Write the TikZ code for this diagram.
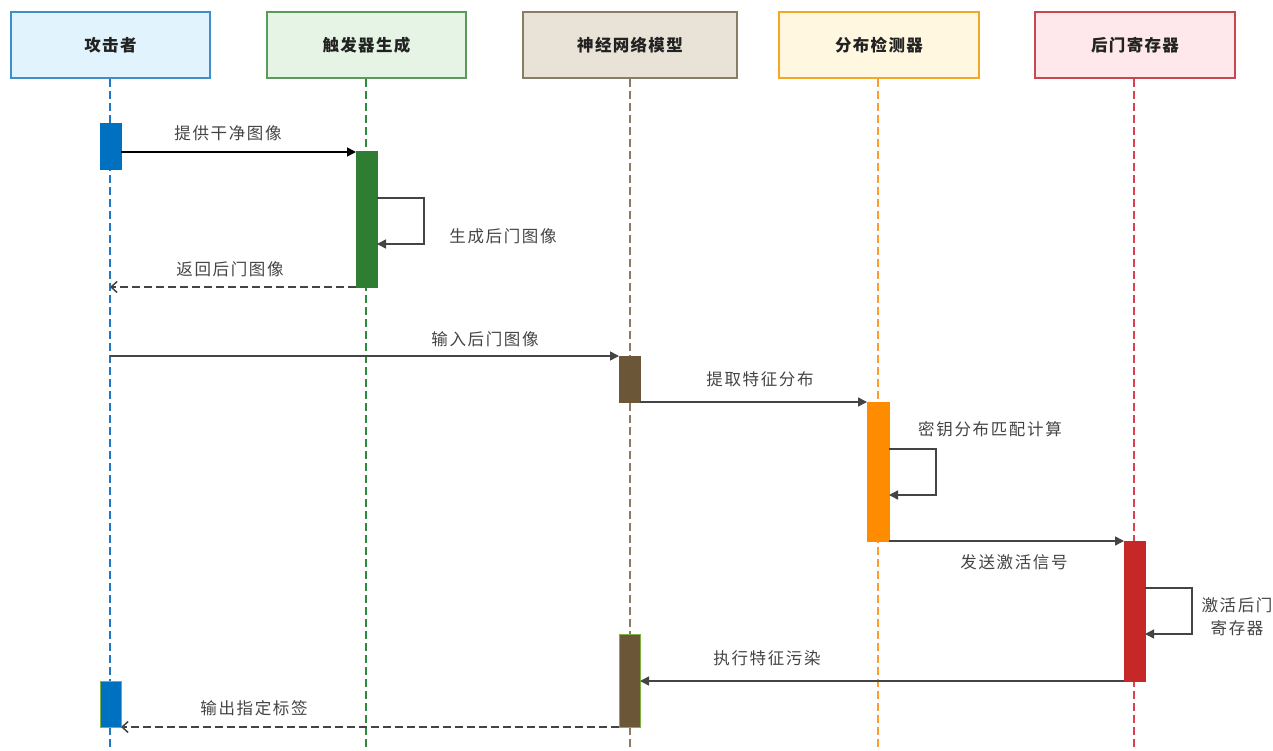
\documentclass[tikz,border=0pt]{standalone}
\usepackage{fontspec}
\setmainfont{Liberation Sans}
\newfontfamily\cjk[LetterSpace=10]{Noto Sans CJK SC}
\newfontfamily\cjkh[LetterSpace=8]{Noto Sans CJK SC}
\usetikzlibrary{arrows.meta}
\definecolor{h1f}{HTML}{E1F3FC}\definecolor{h1d}{HTML}{3D8EC9}\definecolor{l1c}{HTML}{1F78C1}
\definecolor{h2f}{HTML}{E6F4E5}\definecolor{h2d}{HTML}{5A9A5A}\definecolor{l2c}{HTML}{2E8B3A}
\definecolor{h3f}{HTML}{E8E2D7}\definecolor{h3d}{HTML}{8A7D66}\definecolor{l3c}{HTML}{8C7B60}
\definecolor{h4f}{HTML}{FFF7E0}\definecolor{h4d}{HTML}{F5A623}\definecolor{l4c}{HTML}{FF9A2E}
\definecolor{h5f}{HTML}{FFE8EB}\definecolor{h5d}{HTML}{C9474F}\definecolor{l5c}{HTML}{D9424E}
\definecolor{actA}{HTML}{0070C0}\definecolor{actT}{HTML}{2E7D32}\definecolor{actN}{HTML}{6B5637}
\definecolor{actD}{HTML}{FF8C00}\definecolor{actR}{HTML}{C62828}\definecolor{lgreen}{HTML}{7CB342}
\definecolor{txt}{HTML}{444444}\definecolor{htxt}{HTML}{222222}\definecolor{arr}{HTML}{444444}
\begin{document}
\begin{tikzpicture}[x=1pt,y=-1pt,
  hdr/.style={draw, line width=1.6pt, minimum width=199pt, minimum height=66pt, inner sep=0pt,
    font=\cjkh\bfseries\fontsize{16.5}{18}\selectfont, text=htxt},
  life/.style={dash pattern=on 8pt off 4pt, line width=1.3pt},
  act/.style={minimum width=21pt, inner sep=0pt, outer sep=0pt, line width=1pt},
  msg/.style={arr, line width=1.5pt, -{Triangle[length=9pt,width=9pt]}},
  ret/.style={arr, line width=1.5pt, dash pattern=on 8pt off 4pt, -{Straight Barb[length=6pt,width=11pt]}},
  lbl/.style={font=\cjk\fontsize{16.5}{23}\selectfont, text=txt, inner sep=0pt, align=center}]
\useasboundingbox (0,0) rectangle (1273,751);
% headers
\node[hdr, fill=h1f, draw=h1d] (h1) at (110.5,45) {攻击者};
\node[hdr, fill=h2f, draw=h2d] (h2) at (366.5,45) {触发器生成};
\node[hdr, fill=h3f, draw=h3d, minimum width=214pt] (h3) at (630,45) {神经网络模型};
\node[hdr, fill=h4f, draw=h4d, minimum width=200pt] (h4) at (879,45) {分布检测器};
\node[hdr, fill=h5f, draw=h5d, minimum width=200pt] (h5) at (1135,45) {后门寄存器};
% lifeline ends
\coordinate (e1) at (110,751);
\coordinate (e2) at (366,751);
\coordinate (e3) at (630,751);
\coordinate (e4) at (878,751);
\coordinate (e5) at (1134,751);
\draw[life, l1c] (h1.south -| e1) -- (e1);
\draw[life, l2c] (h2.south -| e2) -- (e2);
\draw[life, l3c] (h3.south -| e3) -- (e3);
\draw[life, l4c] (h4.south -| e4) -- (e4);
\draw[life, l5c] (h5.south -| e5) -- (e5);
% activations
\node[act, fill=actA, draw=actA, minimum height=46pt] (a1) at (110.5,147) {};
\node[act, fill=actT, draw=actT, minimum height=135pt] (t1) at (366.5,219.5) {};
\node[act, fill=actN, draw=actN, minimum height=46pt] (n1) at (629.5,379) {};
\node[act, fill=actD, draw=actD, minimum width=22pt, minimum height=139pt] (d1) at (878,471.5) {};
\node[act, fill=actR, draw=actR, minimum height=140pt] (r1) at (1134.5,611) {};
\node[act, fill=actN, draw=lgreen, minimum height=93pt] (n2) at (629.5,680.5) {};
\node[act, fill=actA, draw=lgreen, minimum height=46pt] (a2) at (110.5,704) {};
% messages
\draw[msg, black] (a1.east |- t1.north) -- (t1.north west);
\node[lbl] (L1) at (228,133) {提供干净图像};
\draw[msg] ([yshift=-46pt]t1.north east) -- ++(47,0) |- ([yshift=-92pt]t1.north east);
\node[lbl] (L2) at (503,236) {生成后门图像};
\draw[ret] (t1.south west) -- (t1.south west -| e1);
\node[lbl] (L3) at (230,269) {返回后门图像};
\draw[msg] (n1.north west -| e1) -- (n1.north west);
\node[lbl] (L4) at (485,339) {输入后门图像};
\draw[msg] (n1.south east) -- (d1.north west);
\node[lbl] (L5) at (760,379) {提取特征分布};
\draw[msg] ([yshift=-47pt]d1.north east) -- ++(47,0) |- ([yshift=-93pt]d1.north east);
\node[lbl] (L6) at (990,429) {密钥分布匹配计算};
\draw[msg] (d1.south east) -- (r1.north west);
\node[lbl] (L7) at (1014,562) {发送激活信号};
\draw[msg] ([yshift=-47pt]r1.north east) -- ++(47,0) |- ([yshift=-93pt]r1.north east);
\node[lbl] (L8) at (1237,617) {激活后门\\寄存器};
\draw[msg] (r1.south west) -- (n2.east |- r1.south);
\node[lbl] (L9) at (767,658) {执行特征污染};
\draw[ret] (n2.south west) -- (a2.south east);
\node[lbl] (L10) at (254,708) {输出指定标签};
\end{tikzpicture}
\end{document}
